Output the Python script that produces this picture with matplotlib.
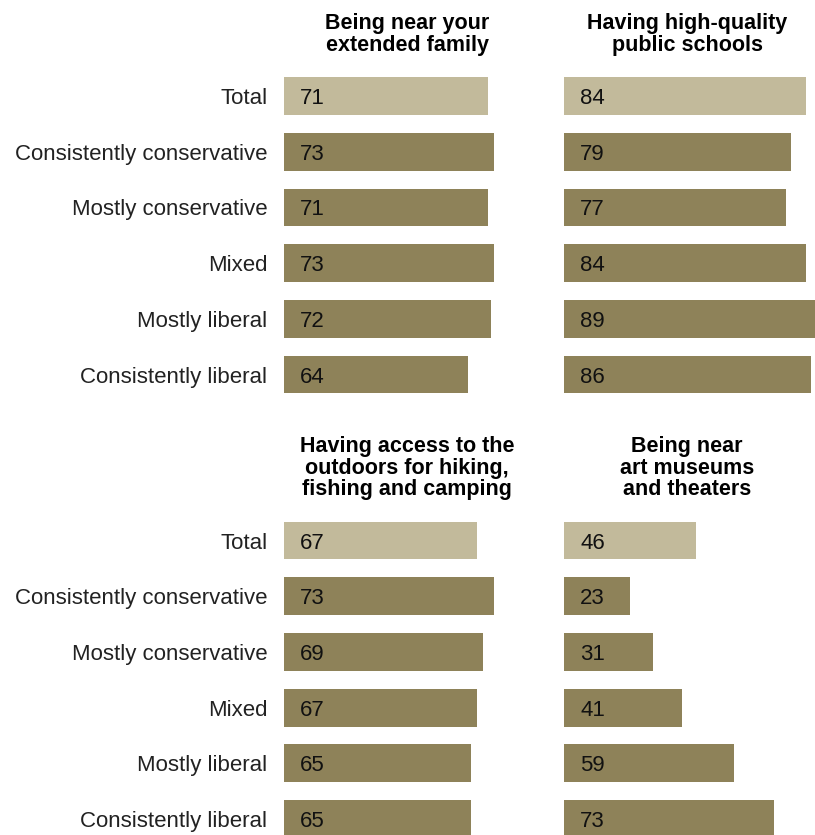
import matplotlib.pyplot as plt

plt.rcParams['font.family'] = ['Liberation Sans', 'DejaVu Sans']

# data
groups = ['Total', 'Consistently conservative', 'Mostly conservative',
          'Mixed', 'Mostly liberal', 'Consistently liberal']

titles = ['Being near your\nextended family',
          'Having high-quality\npublic schools',
          'Having access to the\noutdoors for hiking,\nfishing and camping',
          'Being near\nart museums\nand theaters']

family = [71, 73, 71, 73, 72, 64]
schools = [84, 79, 77, 84, 89, 86]
outdoors = [67, 73, 69, 67, 65, 65]
museums = [46, 23, 31, 41, 59, 73]

light = '#c2ba9b'
dark = '#8e8259'

W, H = 815, 835
fig = plt.figure(figsize=(W / 100, H / 100), dpi=100)


def px_axes(left, top, width, height):
    return fig.add_axes([left / W, 1 - (top + height) / H, width / W, height / H])


row_h = 55.7
panels = [
    (family, titles[0], 284, 68.2, 55.5, True),
    (schools, titles[1], 564, 68.2, 55.5, False),
    (outdoors, titles[2], 284, 512.7, 500.5, True),
    (museums, titles[3], 564, 512.7, 500.5, False),
]

for vals, title, left, top, title_bottom, show_labels in panels:
    ax = px_axes(left, top, 259, row_h * 6)
    colors = [light] + [dark] * (len(vals) - 1)
    ax.barh(range(len(vals)), vals, height=0.68, color=colors)
    ax.set_xlim(0, 90)
    ax.set_ylim(5.5, -0.5)
    for i, v in enumerate(vals):
        ax.text(5.6, i, str(v), va='center_baseline', ha='left', fontsize=16, color='#111111')
    ax.set_xticks([])
    ax.set_yticks(range(len(groups)))
    if show_labels:
        ax.set_yticklabels(groups, fontsize=16, color='#222222')
    else:
        ax.set_yticklabels([])
    ax.tick_params(axis='y', length=0, pad=12)
    for s in ax.spines.values():
        s.set_visible(False)
    fig.text((left + 123) / W, 1 - title_bottom / H, title, ha='center', va='bottom',
             fontsize=15.5, fontweight='bold', linespacing=1.06, color='black')

fig.savefig('out.png', dpi=100)
